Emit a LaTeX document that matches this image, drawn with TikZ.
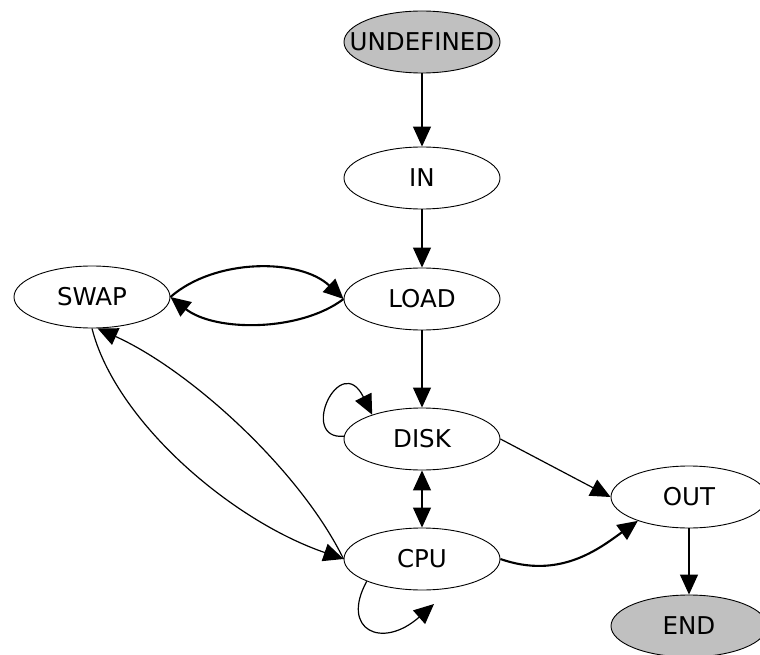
\documentclass[tikz,border=0pt]{standalone}
\usepackage{fontspec}
\setmainfont{DejaVu Sans}
\usetikzlibrary{shapes.geometric,arrows.meta}
\newcommand\nlbl[1]{\makebox[0pt]{#1}}
\definecolor{stgray}{HTML}{C0C0C0}
\begin{document}
\begin{tikzpicture}[x=1pt,y=-1pt,
  st/.style={ellipse, draw, line width=0.9pt, minimum width=156pt, minimum height=62pt, inner sep=0pt, font=\fontsize{24.5}{28}\selectfont},
  term/.style={st, fill=stgray},
  >={Triangle[length=20pt,width=18pt]},
  edge/.style={->, line width=1.2pt},
  bold/.style={->, line width=2.1pt}]
\useasboundingbox (0,0) rectangle (760,655);
\node[term] (undef) at (422,42) {\nlbl{UNDEFINED}};
\node[st] (in) at (422,178) {\nlbl{IN}};
\node[st] (load) at (422,299) {\nlbl{LOAD}};
\node[st] (swap) at (92,297) {\nlbl{SWAP}};
\node[st] (disk) at (422,439) {\nlbl{DISK}};
\node[st] (cpu) at (422,559) {\nlbl{CPU}};
\node[st] (out) at (689,497) {\nlbl{OUT}};
\node[term] (end) at (689,626) {\nlbl{END}};
\coordinate (cpuloop) at (434,604);

\draw[edge] (undef) -- (in);
\draw[edge] (in) -- (load);
\draw[edge] (load) -- (disk);
\draw[bold] (swap.east) .. controls (215,258) and (300,258) .. (load.west);
\draw[bold] (load.west) .. controls (300,332) and (215,332) .. (swap.east);
\draw[edge] (disk.178) .. controls (298,440) and (340,350) .. (disk.154);
\draw[<->, line width=1.2pt] (disk) -- (cpu);
\draw[edge] (disk.east) -- (out.west);
\draw[bold] (cpu.east) .. controls (560,580) and (600,548) .. (out.205);
\draw[edge] (out) -- (end);
\draw[edge] (cpu.202) .. controls (340,630) and (382,650) .. (cpuloop);
\draw[edge] (swap.south) .. controls (115,420) and (230,520) .. (cpu.west);
\draw[edge] (cpu.west) .. controls (300,470) and (190,370) .. (swap.-80);
\end{tikzpicture}
\end{document}
